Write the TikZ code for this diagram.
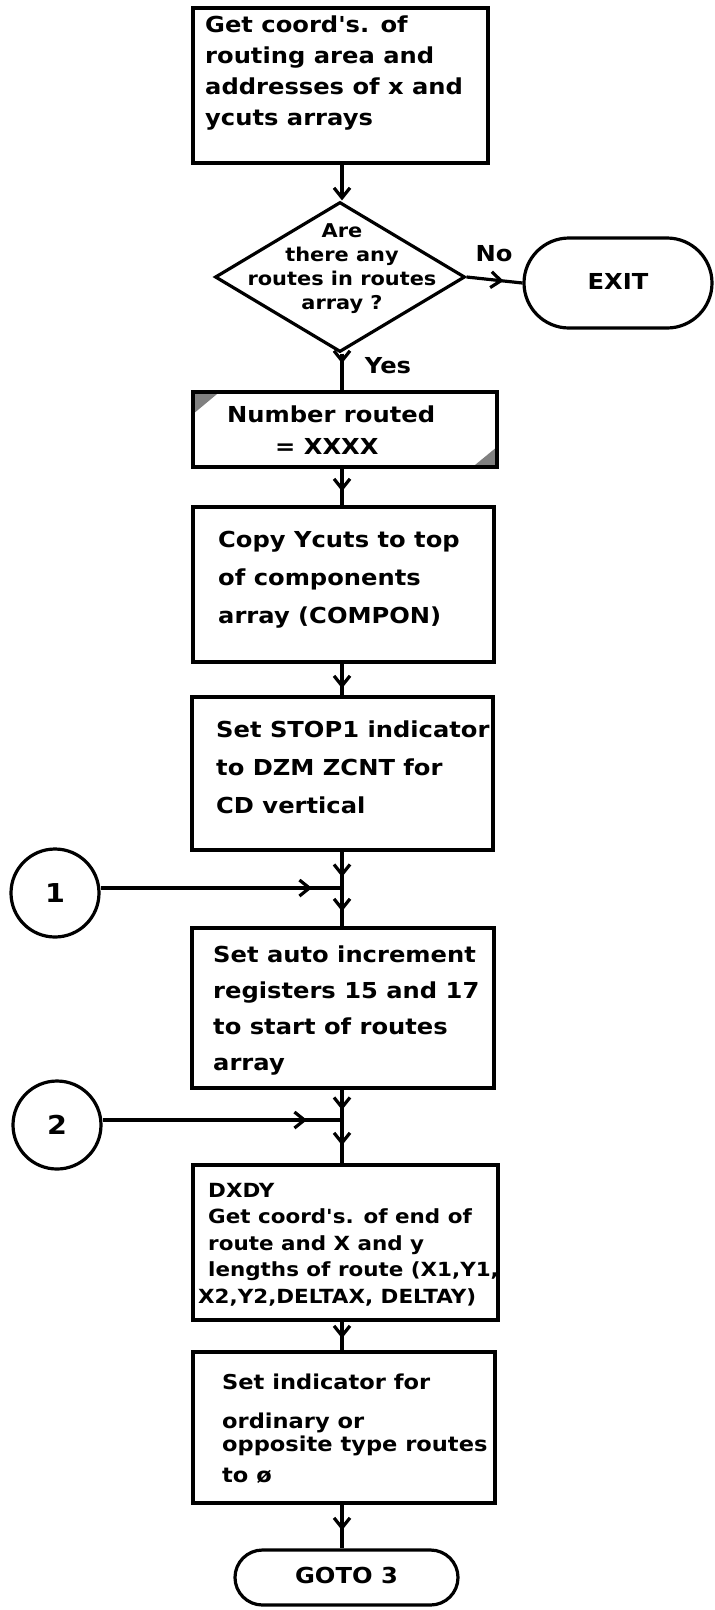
\documentclass[tikz,border=0pt]{standalone}
\usepackage{fontspec}
\newfontfamily\hand[FakeStretch=1.1]{DejaVu Sans Bold}
\usetikzlibrary{arrows.meta,decorations.markings,shapes.geometric,shapes.misc,backgrounds}

\tikzset{
  flow/.style={draw, line width=3.2pt, inner sep=0pt},
  box/.style={flow, rectangle},
  decision/.style={flow, diamond},
  terminal/.style={flow, rounded rectangle},
  connector/.style={flow, circle, minimum size=88pt, font=\fontsize{26}{30}\hand},
  barb/.tip={Straight Barb[length=10pt,width=16pt]},
  link/.style={line width=3.2pt},
  tipat/.style={decoration={markings, mark=at position #1 with {\arrow{barb}}},
                postaction={decorate}},
  % multi-line texts are placed by the baseline of their last line
  txt/.style={inner sep=0pt, align=left, anchor=base west, font=\fontsize{22}{31}\hand},
  lbl/.style={inner sep=0pt, anchor=base, font=\fontsize{22}{26}\hand},
}

\begin{document}
\begin{tikzpicture}[x=1pt,y=-1pt]
\useasboundingbox (0,0) rectangle (715,1610);

% main column axis
\coordinate (ax) at (342,0);

% process boxes
\node[box, minimum width=295pt, minimum height=155pt] (b1) at (340.5,85.5) {};
\node[decision, minimum width=250pt, minimum height=150pt] (q) at (340,277) {};
\node[terminal, minimum width=188pt, minimum height=90pt] (exit) at (618,283) {};
\node[box, minimum width=304pt, minimum height=75pt] (b2) at (345,429.5) {};
\node[box, minimum width=301pt, minimum height=155pt] (b3) at (343.5,584.5) {};
\node[box, minimum width=301pt, minimum height=153pt] (b4) at (342.5,773.5) {};
\node[box, minimum width=302pt, minimum height=160pt] (b5) at (343,1008) {};
\node[box, minimum width=305pt, minimum height=155pt] (b6) at (345.5,1242.5) {};
\node[box, minimum width=302pt, minimum height=151pt] (b7) at (344,1427.5) {};
\node[terminal, minimum width=223pt, minimum height=55pt] (goto) at (346.5,1577.5) {};

% off-page connectors
\node[connector] (c1) at (55,893) {1};
\node[connector] (c2) at (57,1125) {2};
\coordinate (j1) at (342,888);
\coordinate (j2) at (342,1120);

% white sheet, and the stippled corners of the count box
\begin{scope}[on background layer]
  \fill[white] (0,0) rectangle (715,1610);
  \fill[black!50] (b2.north west) -- ++(30,0) -- ++(-30,25) -- cycle;
  \fill[black!50] (b2.south east) -- ++(-28,0) -- ++(28,-23) -- cycle;
\end{scope}

% texts
\node[txt] (t1) at (205,125) {Get coord's. of\\routing area and\\addresses of x and\\ycuts arrays};
\node[txt, align=center, anchor=base, font=\fontsize{19}{24}\hand] (tq) at (342,309)
  {Are\\there any\\routes in routes\\array ?};
\node[txt, font=\fontsize{22}{32}\hand] (t2) at (227,454) {Number routed\\\hspace*{48pt}= XXXX};
\node[txt, font=\fontsize{22}{38}\hand] (t3) at (218,623) {Copy Ycuts to top\\of components\\array (COMPON)};
\node[txt, font=\fontsize{22}{38}\hand] (t4) at (216,813) {Set STOP1 indicator\\to DZM ZCNT for\\CD vertical};
\node[txt, font=\fontsize{22}{36}\hand] (t5) at (213,1070) {Set auto increment\\registers 15 and 17\\to start of routes\\array};
\node[txt, font=\fontsize{19.5}{26.5}\hand] (t6) at (208,1303)
  {DXDY\\Get coord's. of end of\\route and X and y\\lengths of route (X1,Y1,\\\hspace*{-10pt}X2,Y2,DELTAX, DELTAY)};
\node[txt, font=\fontsize{20.5}{31}\hand] (t7) at (222,1482) {Set indicator for\\[8pt]ordinary or\\[-8pt]opposite type routes\\to ø};
\node[lbl] (texit) at (exit) {\raisebox{-0.5ex}{EXIT}};
\node[lbl] (tgoto) at (goto) {\raisebox{-0.5ex}{GOTO 3}};
\node[lbl] (lno) at (494,261) {No};
\node[lbl] (lyes) at (388,373) {Yes};

% connectors
\draw[link, -{barb}] (b1.south -| ax) -- (q.north -| ax);
\draw[link, tipat=-19pt] (q.east) -- (exit.west);
\draw[link, tipat=-27pt] (q.south -| ax) -- (b2.north -| ax);
\draw[link, tipat=-14pt] (b2.south -| ax) -- (b3.north -| ax);
\draw[link, tipat=-7pt]  (b3.south -| ax) -- (b4.north -| ax);
\draw[link, tipat=-11pt] (b4.south -| ax) -- (j1);
\draw[link, tipat=-15pt] (j1) -- (b5.north -| ax);
\draw[link, tipat=-30pt] (c1.east |- j1) -- (j1);
\draw[link, tipat=-10pt] (b5.south -| ax) -- (j2);
\draw[link, tipat=-18pt] (j2) -- (b6.north -| ax);
\draw[link, tipat=-35pt] (c2.east |- j2) -- (j2);
\draw[link, tipat=-12pt] (b6.south -| ax) -- (b7.north -| ax);
\draw[link, tipat=-18pt] (b7.south -| ax) -- (goto.north -| ax);
\end{tikzpicture}
\end{document}
